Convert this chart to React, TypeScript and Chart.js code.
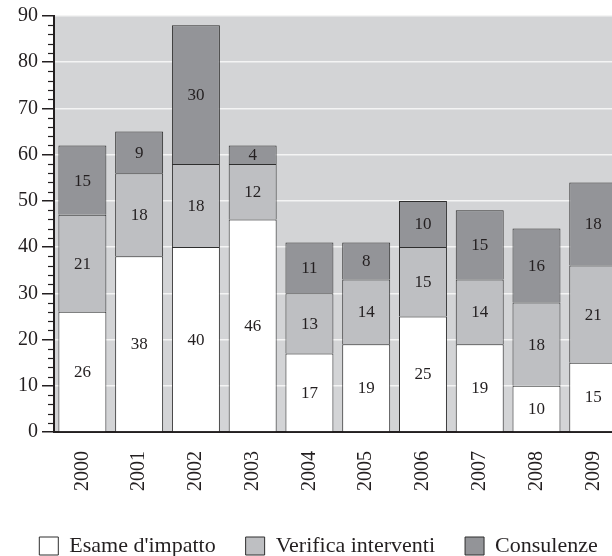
import React, { useEffect, useRef } from "react";
import { Chart, registerables } from "chart.js";

Chart.register(...registerables);

const years = ["2000", "2001", "2002", "2003", "2004", "2005", "2006", "2007", "2008", "2009"];
const esameImpatto = [26, 38, 40, 46, 17, 19, 25, 19, 10, 15];
const verificaInterventi = [21, 18, 18, 12, 13, 14, 15, 14, 18, 21];
const consulenze = [15, 9, 30, 4, 11, 8, 10, 15, 16, 18];
const seriesNames = ["Esame d'impatto", "Verifica interventi", "Consulenze"];
const yMin = 0;
const yMax = 90;
const yMajorStep = 10;
const yMinorStep = 2;

const INK = "#231f20";
const FONT = "'Liberation Serif', 'Times New Roman', serif";

const CANVAS_W = 637;
const CANVAS_H = 567;
const LEGEND_PAD = 30;

const backgroundPlugin = {
  id: "plotBackground",
  beforeDraw(chart: any) {
    const { ctx, chartArea } = chart;
    ctx.save();
    ctx.fillStyle = "#d3d4d6";
    ctx.fillRect(chartArea.left, chartArea.top, chartArea.right - chartArea.left, chartArea.bottom - chartArea.top);
    ctx.restore();
  },
};

const minorTicksPlugin = {
  id: "minorTicks",
  afterDraw(chart: any) {
    const { ctx, chartArea } = chart;
    const scale = chart.scales.y;
    ctx.save();
    ctx.strokeStyle = INK;
    ctx.lineWidth = 1.2;
    for (let v = yMin; v <= yMax; v += yMinorStep) {
      if (v % yMajorStep === 0) continue;
      const y = Math.round(scale.getPixelForValue(v)) + 0.5;
      ctx.beginPath();
      ctx.moveTo(chartArea.left - 6, y);
      ctx.lineTo(chartArea.left, y);
      ctx.stroke();
    }
    ctx.restore();
  },
};

const valueLabelsPlugin = {
  id: "valueLabels",
  afterDatasetsDraw(chart: any) {
    const { ctx } = chart;
    ctx.save();
    ctx.font = `17px ${FONT}`;
    ctx.fillStyle = INK;
    ctx.textAlign = "center";
    ctx.textBaseline = "middle";
    chart.data.datasets.forEach((ds: any, i: number) => {
      const meta = chart.getDatasetMeta(i);
      meta.data.forEach((bar: any, j: number) => {
        const p = bar.getProps(["x", "y", "base"], true);
        ctx.fillText(String(ds.data[j]), p.x, (p.y + p.base) / 2 + 1);
      });
    });
    ctx.restore();
  },
};

export default function App() {
  const canvasRef = useRef<HTMLCanvasElement | null>(null);

  useEffect(() => {
    if (!canvasRef.current) return;
    Chart.defaults.font.family = FONT;
    const chart = new Chart(canvasRef.current, {
      type: "bar",
      data: {
        labels: years,
        datasets: [
          { label: seriesNames[0], data: esameImpatto, backgroundColor: "#ffffff", borderColor: "#2e2e2e", borderWidth: 1 },
          { label: seriesNames[1], data: verificaInterventi, backgroundColor: "#bebfc2", borderColor: "#2e2e2e", borderWidth: 1 },
          { label: seriesNames[2], data: consulenze, backgroundColor: "#939498", borderColor: "#2e2e2e", borderWidth: 1 },
        ],
      },
      options: {
        animation: false,
        responsive: false,
        layout: { padding: { top: 16, left: 0, right: 0, bottom: 0 } },
        datasets: { bar: { categoryPercentage: 1, barPercentage: 0.845 } },
        plugins: {
          legend: {
            position: "bottom",
            labels: {
              boxWidth: 19,
              boxHeight: 18,
              padding: LEGEND_PAD,
              color: INK,
              font: { size: 22, family: FONT },
            },
          },
          tooltip: { enabled: false },
        },
        scales: {
          x: {
            stacked: true,
            grid: { display: false, drawTicks: false },
            border: { display: true, color: INK, width: 2 },
            ticks: { minRotation: 90, maxRotation: 90, padding: 19, color: INK, font: { size: 20, family: FONT } },
            afterFit: (s: any) => { s.height = 103 - LEGEND_PAD; },
          },
          y: {
            stacked: true,
            min: yMin,
            max: yMax,
            ticks: { stepSize: yMajorStep, padding: 4, color: INK, font: { size: 20, family: FONT } },
            grid: {
              color: (c: any) => (c.tick && c.tick.value === 0 ? "rgba(0,0,0,0)" : "#f4f4f4"),
              lineWidth: 1.5,
              tickColor: INK,
              tickLength: 12,
              tickWidth: 1.5,
            },
            border: { display: true, color: INK, width: 2 },
            afterFit: (s: any) => { s.width = 54; },
          },
          y2: {
            position: "right",
            display: true,
            grid: { display: false, drawTicks: false },
            border: { display: false },
            ticks: { display: false },
            afterFit: (s: any) => { s.width = 15; },
          },
        },
      } as any,
      plugins: [backgroundPlugin, minorTicksPlugin, valueLabelsPlugin],
    });
    return () => chart.destroy();
  }, []);

  return (
    <div style={{ position: "fixed", left: 0, top: 0, width: 612, height: 556, overflow: "hidden", background: "#ffffff" }}>
      <canvas ref={canvasRef} width={CANVAS_W} height={CANVAS_H} style={{ display: "block", width: CANVAS_W, height: CANVAS_H }} />
    </div>
  );
}
